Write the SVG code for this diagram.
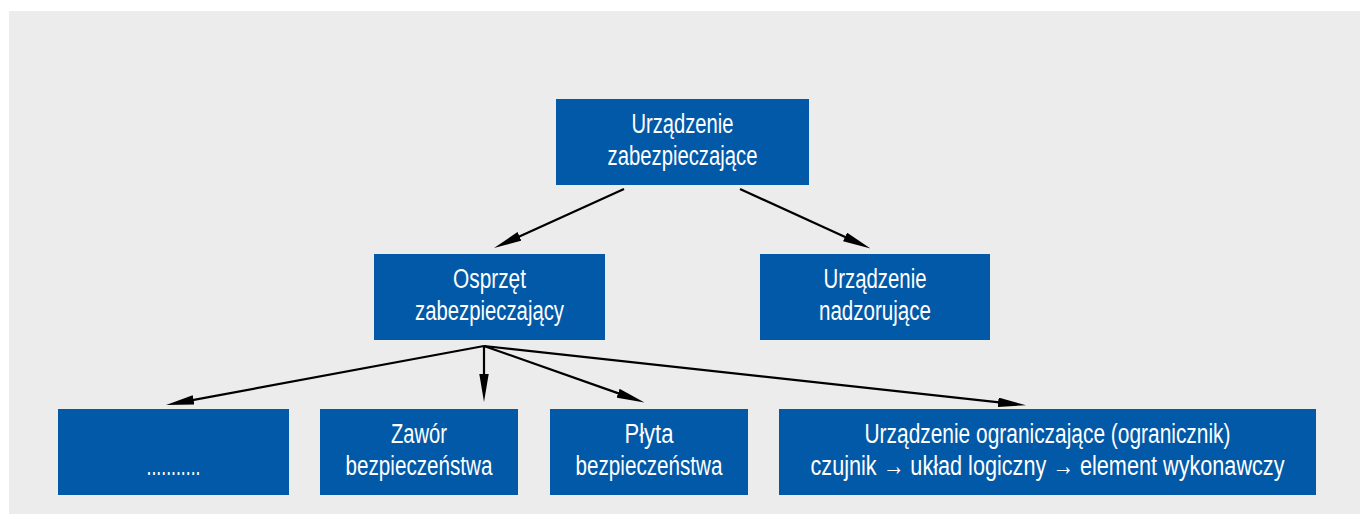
<svg xmlns="http://www.w3.org/2000/svg" width="1360" height="514" viewBox="0 0 1360 514">
<style>
.box{fill:#0159a8;}
.t{font-family:"Liberation Sans","Arial",sans-serif;font-size:27px;fill:#ffffff;text-anchor:middle;}
.c{stroke:#000000;stroke-width:2.2;fill:none;marker-end:url(#ah);}
</style>
<defs>
<marker id="ah" markerUnits="userSpaceOnUse" markerWidth="28" markerHeight="10" refX="8" refY="4.7" orient="auto">
<path d="M0,0 L28,4.7 L0,9.4 z" fill="#000000"/>
</marker>
</defs>
<rect x="0" y="0" width="1360" height="514" fill="#ffffff"/>
<rect x="9" y="11" width="1351" height="503" fill="#ececec"/>
<g id="connectors">
<line class="c" x1="624" y1="189" x2="512.2" y2="239.7"/>
<line class="c" x1="740" y1="189" x2="852.3" y2="240.2"/>
<line class="c" x1="484" y1="346" x2="185.7" y2="401.4"/>
<line class="c" x1="484" y1="346" x2="484" y2="382"/>
<line class="c" x1="484" y1="346" x2="625.6" y2="395.9"/>
<line class="c" x1="484" y1="346" x2="1006.1" y2="403.1"/>
</g>
<g id="n-root">
<rect class="box" x="556" y="99" width="253" height="86"/>
<text class="t" x="682.5" y="133" textLength="102" lengthAdjust="spacingAndGlyphs">Urządzenie</text>
<text class="t" x="682.5" y="165" textLength="150" lengthAdjust="spacingAndGlyphs">zabezpieczające</text>
</g>
<g id="n-osprzet">
<rect class="box" x="374" y="254" width="231" height="86"/>
<text class="t" x="489.5" y="288" textLength="73" lengthAdjust="spacingAndGlyphs">Osprzęt</text>
<text class="t" x="489.5" y="320" textLength="149" lengthAdjust="spacingAndGlyphs">zabezpieczający</text>
</g>
<g id="n-nadzor">
<rect class="box" x="760" y="254" width="230" height="86"/>
<text class="t" x="875" y="288" textLength="103" lengthAdjust="spacingAndGlyphs">Urządzenie</text>
<text class="t" x="875" y="320" textLength="112" lengthAdjust="spacingAndGlyphs">nadzorujące</text>
</g>
<g id="n-dots">
<rect class="box" x="58" y="409" width="231" height="86"/>
<text class="t" x="173.5" y="475" textLength="54" lengthAdjust="spacingAndGlyphs">...........</text>
</g>
<g id="n-zawor">
<rect class="box" x="320" y="409" width="198" height="86"/>
<text class="t" x="419" y="443" textLength="56" lengthAdjust="spacingAndGlyphs">Zawór</text>
<text class="t" x="419" y="475" textLength="147" lengthAdjust="spacingAndGlyphs">bezpieczeństwa</text>
</g>
<g id="n-plyta">
<rect class="box" x="550" y="409" width="198" height="86"/>
<text class="t" x="649" y="443" textLength="49" lengthAdjust="spacingAndGlyphs">Płyta</text>
<text class="t" x="649" y="475" textLength="147" lengthAdjust="spacingAndGlyphs">bezpieczeństwa</text>
</g>
<g id="n-ogranicznik">
<rect class="box" x="779" y="409" width="537" height="86"/>
<text class="t" x="1047.5" y="443" textLength="366" lengthAdjust="spacingAndGlyphs">Urządzenie ograniczające (ogranicznik)</text>
<text class="t" x="1047.5" y="475" textLength="474" lengthAdjust="spacingAndGlyphs">czujnik → układ logiczny → element wykonawczy</text>
</g>
</svg>
